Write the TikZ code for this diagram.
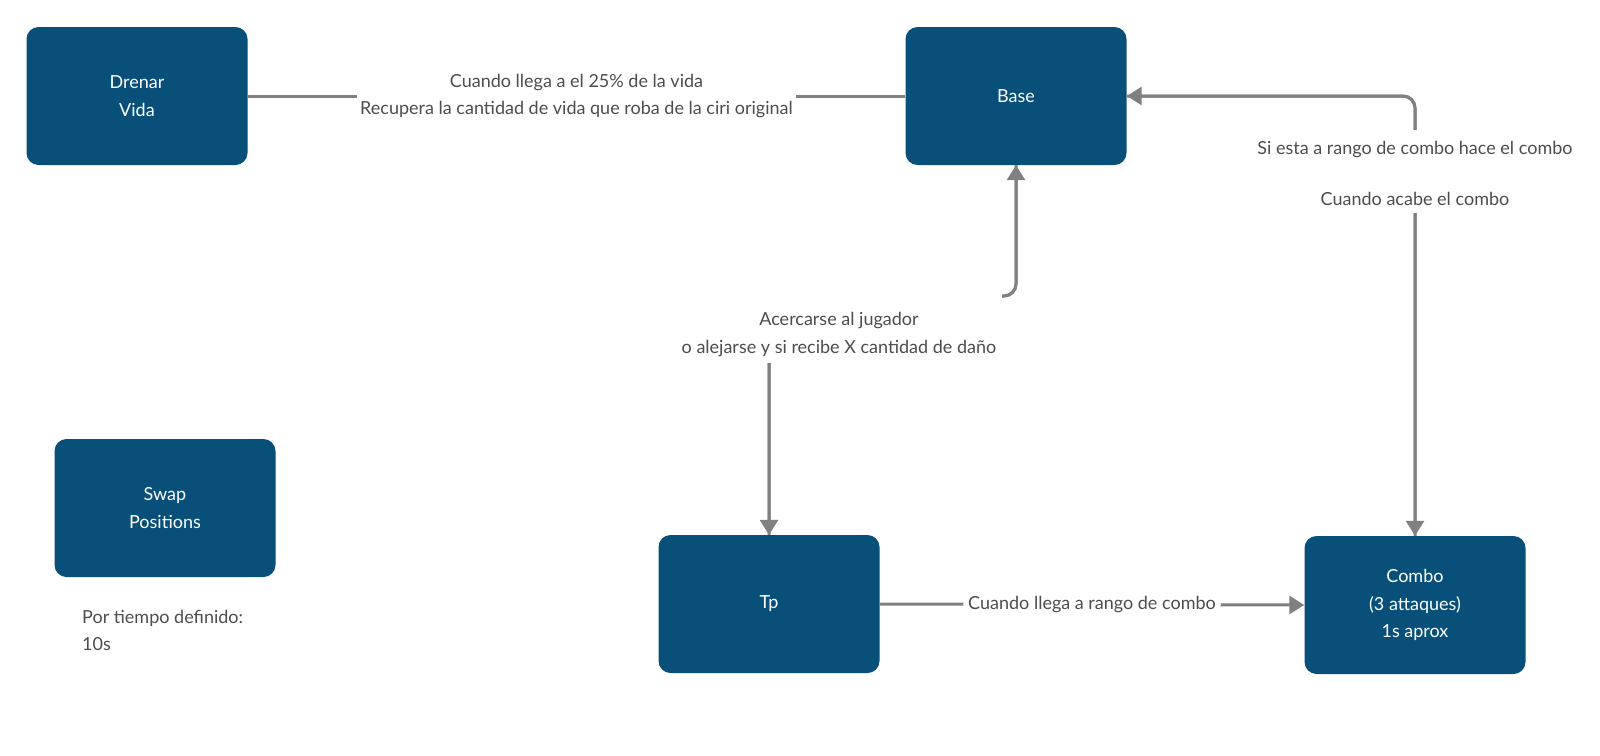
\documentclass[tikz,border=0pt]{standalone}
\usepackage{fontspec}
\setmainfont{Lato}
\usetikzlibrary{arrows.meta}
\definecolor{boxblue}{HTML}{084F7A}
\definecolor{linegray}{HTML}{808080}
\definecolor{txtgray}{HTML}{4D4D4D}
\begin{document}
\begin{tikzpicture}[x=1pt,y=-1pt,
  stbox/.style={rectangle, rounded corners=12pt, fill=boxblue, text=white, minimum width=221pt, minimum height=138pt, align=center, inner sep=0pt, font=\fontsize{18}{27.5}\selectfont},
  conn/.style={draw=linegray, line width=3pt, rounded corners=12pt},
  arr/.style={conn, -{Triangle[length=15pt,width=18pt]}},
  lbl/.style={fill=white, text=txtgray, font=\fontsize{18}{27.5}\selectfont, align=center, inner xsep=3pt, inner ysep=3pt}
]
\useasboundingbox (0,0) rectangle (1600,755);

\node[stbox] (drenar) at (137,96) {Drenar\\Vida};
\node[stbox] (base) at (1016,96) {Base};
\node[stbox] (swap) at (165,508) {Swap\\Positions};
\node[stbox] (tp) at (769,604) {Tp};
\node[stbox] (combo) at (1415,605) {Combo\\(3 attaques)\\1s aprox};

\coordinate (tb) at (839,296);

\draw[conn] (drenar.east) -- node[lbl] (l0) {Cuando llega a el 25\% de la vida\\Recupera la cantidad de vida que roba de la ciri original} (base.west);
\draw[arr] (base.east) -| (combo.north);
\draw[arr] (combo.north) |- (base.east);
\draw[arr] (base.south) |- (tb) -| (tp.north);
\draw[arr] (tp.north) |- (tb) -| (base.south);
\draw[arr] (tp.east) -- node[lbl, inner xsep=5pt] (l4) {Cuando llega a rango de combo} (combo.west);

\node[lbl, anchor=base, text height=24.5pt, text depth=20.5pt, inner ysep=0pt] (l1) at (1415,154.5) {Si esta a rango de combo hace el combo};
\node[lbl, anchor=base, text height=30.5pt, text depth=7.5pt, inner ysep=0pt] (l2) at (1415,205.5) {Cuando acabe el combo};
\node[lbl, anchor=north, inner xsep=6pt, inner ysep=6.5pt] (l3) at (839,294) {\rule{0pt}{25pt}Acercarse al jugador\\o alejarse y si recibe X cantidad de daño};
\node[anchor=north west, inner sep=0pt, text=txtgray, align=left, font=\fontsize{18}{27.5}\selectfont] (note) at (82,610) {Por tiempo definido:\\10s};
\end{tikzpicture}
\end{document}
